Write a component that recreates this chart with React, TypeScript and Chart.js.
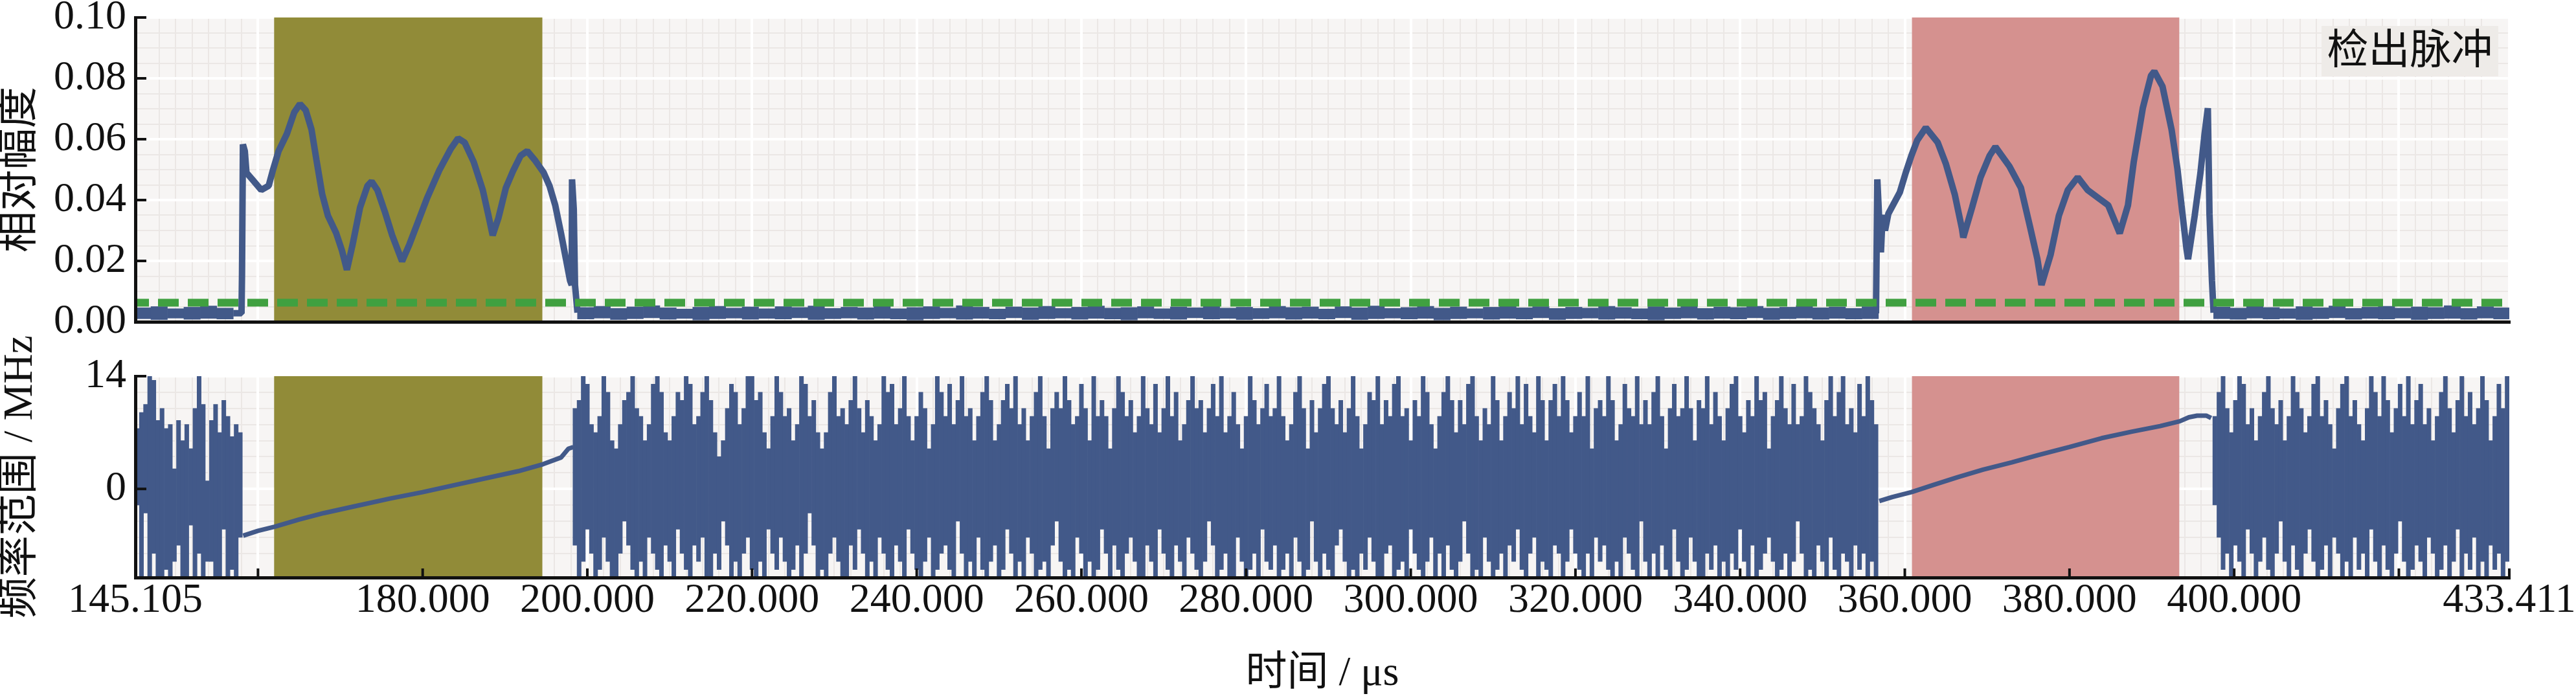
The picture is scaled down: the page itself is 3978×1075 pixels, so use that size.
import React, { useEffect, useRef } from 'react';
import { Chart, registerables } from 'chart.js';

Chart.register(...registerables);

// ---------------- axes ----------------
const TIME_MIN = 145.105;
const TIME_MAX = 433.411;
const timeTicks = [145.105, 160, 180, 200, 220, 240, 260, 280, 300, 320, 340, 360, 380, 400, 420, 433.411];
const timeTickLabels = ['145.105', '', '180.000', '200.000', '220.000', '240.000', '260.000', '280.000', '300.000', '320.000', '340.000', '360.000', '380.000', '400.000', '', '433.411'];
const AMP_MIN = 0;
const AMP_MAX = 0.1;
const ampTicks = [0, 0.02, 0.04, 0.06, 0.08, 0.1];
const ampTickLabels = ['0.00', '0.02', '0.04', '0.06', '0.08', '0.10'];
const FREQ_MIN = -11;
const FREQ_MAX = 14;
const freqTicks = [0, 14];
const freqTickLabels = ['0', '14'];

// ---------------- detected pulses ----------------
const pulse1Window = [161.95, 194.55];
const pulse2Window = [360.85, 393.35];
const detectionThreshold = 0.0063;

// ---------------- relative amplitude ----------------
// noise floor outside the pulses: max / min per 2 µs bin
const AMP_BIN = 2;
const ampNoiseAStart = 146.0;
const ampNoiseAHigh = [0.0046, 0.0050, 0.0043, 0.0048, 0.0052, 0.0045];
const ampNoiseALow = [0.0010, 0.0007, 0.0012, 0.0008, 0.0011, 0.0009];
const ampNoiseBStart = 199.8;
const ampNoiseBHigh = [
  0.0047, 0.0051, 0.0044, 0.0049, 0.0053, 0.0046, 0.0042, 0.0048, 0.0051, 0.0045,
  0.0049, 0.0043, 0.0050, 0.0047, 0.0052, 0.0044, 0.0048, 0.0046, 0.0051, 0.0043,
  0.0047, 0.0050, 0.0045, 0.0053, 0.0048, 0.0042, 0.0049, 0.0046, 0.0051, 0.0044,
  0.0048, 0.0052, 0.0045, 0.0047, 0.0050, 0.0043, 0.0049, 0.0046, 0.0053, 0.0045,
  0.0048, 0.0044, 0.0051, 0.0047, 0.0049, 0.0042, 0.0050, 0.0046, 0.0052, 0.0044,
  0.0047, 0.0051, 0.0045, 0.0049, 0.0043, 0.0048, 0.0053, 0.0046, 0.0050, 0.0044,
  0.0048, 0.0045, 0.0051, 0.0047, 0.0043, 0.0050, 0.0046, 0.0052, 0.0044, 0.0049,
  0.0047, 0.0051, 0.0045, 0.0048, 0.0053, 0.0046, 0.0049, 0.0044, 0.0050,
];
const ampNoiseBLow = [
  0.0009, 0.0012, 0.0007, 0.0010, 0.0013, 0.0008, 0.0011, 0.0006, 0.0010, 0.0012,
  0.0008, 0.0011, 0.0009, 0.0013, 0.0007, 0.0010, 0.0012, 0.0008, 0.0011, 0.0009,
  0.0006, 0.0010, 0.0012, 0.0008, 0.0011, 0.0009, 0.0013, 0.0007, 0.0010, 0.0012,
  0.0008, 0.0011, 0.0009, 0.0006, 0.0012, 0.0010, 0.0008, 0.0013, 0.0009, 0.0011,
  0.0007, 0.0010, 0.0012, 0.0008, 0.0011, 0.0009, 0.0013, 0.0007, 0.0010, 0.0012,
  0.0009, 0.0011, 0.0006, 0.0010, 0.0012, 0.0008, 0.0011, 0.0009, 0.0013, 0.0007,
  0.0010, 0.0012, 0.0008, 0.0011, 0.0009, 0.0006, 0.0010, 0.0012, 0.0008, 0.0011,
  0.0009, 0.0013, 0.0007, 0.0010, 0.0012, 0.0008, 0.0011, 0.0009, 0.0010,
];
const ampNoiseCStart = 398.5;
const ampNoiseCHigh = [0.0049, 0.0045, 0.0051, 0.0047, 0.0043, 0.0050, 0.0046, 0.0052, 0.0044, 0.0048, 0.0051, 0.0045, 0.0049, 0.0047, 0.0053, 0.0044, 0.0050, 0.0046];
const ampNoiseCLow = [0.0010, 0.0008, 0.0012, 0.0009, 0.0011, 0.0007, 0.0010, 0.0013, 0.0008, 0.0011, 0.0009, 0.0012, 0.0007, 0.0010, 0.0011, 0.0008, 0.0012, 0.0009];

// amplitude envelope inside the pulses
const pulse1Time = [157.0, 158.0, 158.06, 158.17, 158.4, 158.6, 159.3, 160.4, 161.3, 161.8, 162.5, 163.5, 164.4, 165.1, 165.8, 166.5, 167.1, 167.8, 168.5, 169.5, 170.2, 170.8, 171.5, 172.4, 173.3, 173.8, 174.5, 175.4, 176.3, 177.5, 178.4, 179.5, 180.5, 182.0, 183.4, 184.3, 185.1, 186.2, 187.3, 188.0, 188.5, 189.2, 190.1, 191.0, 191.9, 192.7, 193.6, 194.7, 195.4, 196.1, 196.8, 197.5, 197.9, 198.1, 198.14, 198.35, 198.5, 198.8];
const pulse1Amp = [0.0028, 0.0028, 0.0157, 0.0583, 0.0561, 0.0490, 0.0468, 0.0433, 0.0447, 0.0497, 0.0561, 0.0617, 0.0688, 0.0716, 0.0695, 0.0632, 0.0532, 0.0419, 0.0348, 0.0291, 0.0234, 0.0171, 0.0255, 0.0376, 0.0447, 0.0461, 0.0433, 0.0362, 0.0284, 0.0199, 0.0255, 0.0333, 0.0404, 0.0497, 0.0568, 0.0603, 0.0589, 0.0525, 0.0433, 0.0348, 0.0284, 0.0341, 0.0440, 0.0497, 0.0546, 0.0561, 0.0532, 0.0490, 0.0447, 0.0383, 0.0291, 0.0192, 0.0135, 0.0121, 0.0468, 0.0370, 0.0121, 0.0030];
const pulse2Time = [356.5, 356.66, 356.9, 357.1, 357.3, 357.6, 358.0, 359.4, 360.1, 360.8, 361.5, 362.55, 364.0, 365.0, 366.06, 366.94, 367.1, 368.17, 369.2, 370.3, 371.0, 372.7, 374.1, 375.2, 376.1, 376.6, 377.7, 378.7, 379.8, 381.0, 382.2, 383.6, 384.7, 386.1, 387.1, 387.8, 388.9, 389.9, 390.3, 391.3, 392.4, 393.1, 393.6, 394.2, 394.4, 395.2, 395.9, 396.4, 396.8, 397.0, 397.3, 397.5];
const pulse2Amp = [0.0028, 0.0468, 0.0330, 0.0228, 0.0351, 0.0300, 0.0355, 0.0426, 0.0489, 0.0546, 0.0596, 0.0638, 0.0589, 0.0518, 0.0419, 0.0306, 0.0277, 0.0376, 0.0475, 0.0546, 0.0575, 0.0511, 0.0440, 0.0313, 0.0206, 0.0121, 0.0220, 0.0348, 0.0433, 0.0475, 0.0433, 0.0405, 0.0383, 0.0291, 0.0383, 0.0525, 0.0702, 0.0809, 0.0823, 0.0773, 0.0631, 0.0504, 0.0383, 0.0241, 0.0206, 0.0348, 0.0489, 0.0617, 0.0702, 0.0355, 0.0135, 0.0030];

// ---------------- frequency ----------------
// linear chirp inside each pulse
const chirp1Time = [158.2, 160, 162, 165, 168, 172, 176, 180, 184, 188, 191.6, 194.6, 196.8, 197.7, 198.3];
const chirp1Freq = [-5.8, -5.2, -4.7, -3.8, -3.0, -2.1, -1.2, -0.4, 0.5, 1.4, 2.2, 3.06, 3.9, 5.0, 5.2];
const chirp2Time = [356.9, 358.5, 360.8, 363.5, 366.4, 369.5, 373, 376.2, 380, 383.9, 387.5, 391, 393.4, 394.5, 395.5, 396.6, 397.2];
const chirp2Freq = [-1.5, -1.0, -0.4, 0.5, 1.45, 2.4, 3.3, 4.2, 5.2, 6.3, 7.1, 7.8, 8.4, 8.9, 9.1, 9.1, 8.8];

// noise outside the pulses: max / min per 0.5 µs bin
const FREQ_BIN = 0.5;
const freqNoiseAStart = 145.35;
const freqNoiseAHigh = [7.5, 9.5, 10.5, 14, 13.5, 8.5, 10, 7.5, 8, 2.5, 8.5, 6, 8, 5, 10, 14, 10.5, 1, 8.5, 10.5, 7, 11, 9, 6.5, 8, 7];
const freqNoiseALow = [-2, -11, -3, -11, -8, -11, -11, -10, -11, -9, -7, -11, -11, -4.5, -11, -8, -11, -9, -9, -11, -11, -5, -11, -10, -11, -6];
const freqNoiseBStart = 198.5;
const freqNoiseBHigh = [
  10, 11, 14, 13, 8, 7, 9, 14, 12, 6,
  5, 8, 11, 12, 14, 10, 9, 6, 8, 13,
  14, 12, 7, 6, 9, 12, 11, 14, 13, 8,
  9, 12, 14, 11, 7, 4, 6, 10, 13, 12,
  8, 10, 14, 14, 11, 12, 7, 5, 9, 14,
  12, 9, 10, 6, 8, 14, 13, 9, 11, 7,
  5, 7, 12, 14, 9, 10, 8, 11, 14, 10,
  7, 11, 9, 6, 8, 14, 12, 13, 8, 10,
  14, 9, 6, 9, 12, 10, 5, 8, 14, 12,
  9, 13, 8, 11, 14, 9, 10, 6, 9, 12,
  14, 11, 6, 8, 11, 13, 10, 14, 8, 10,
  6, 9, 12, 14, 9, 5, 10, 12, 10, 14,
  11, 8, 9, 13, 10, 6, 14, 9, 11, 9,
  5, 10, 14, 12, 9, 11, 7, 9, 14, 10,
  8, 13, 7, 10, 14, 9, 12, 6, 8, 11,
  14, 10, 11, 7, 10, 13, 9, 14, 7, 9,
  12, 8, 5, 9, 14, 11, 8, 10, 13, 9,
  10, 14, 9, 6, 8, 12, 14, 10, 5, 11,
  7, 10, 13, 14, 10, 8, 11, 7, 10, 14,
  9, 5, 8, 12, 11, 14, 8, 11, 9, 13,
  14, 9, 10, 6, 11, 9, 14, 12, 8, 5,
  9, 12, 14, 11, 7, 11, 8, 13, 14, 9,
  6, 10, 8, 14, 11, 6, 9, 12, 10, 14,
  8, 13, 9, 7, 14, 11, 6, 11, 13, 9,
  14, 11, 7, 9, 12, 9, 14, 5, 10, 11,
  9, 14, 11, 6, 8, 13, 10, 9, 14, 8,
  11, 8, 12, 14, 9, 5, 10, 13, 9, 10,
  14, 10, 6, 11, 10, 14, 8, 12, 9, 6,
  10, 13, 14, 9, 7, 11, 9, 14, 11, 12,
  5, 9, 11, 14, 10, 8, 13, 8, 9, 14,
  12, 10, 8, 6, 11, 14, 9, 12, 14, 8,
  10, 7, 13, 9, 14, 11, 8,
];
const freqNoiseBLow = [
  -7, -11, -9, -5, -8, -11, -10, -6, -9, -11,
  -11, -8, -4, -7, -10, -11, -9, -11, -6, -8,
  -10, -11, -7, -9, -11, -5, -8, -10, -11, -7,
  -9, -6, -11, -11, -8, -10, -4, -7, -11, -9,
  -11, -8, -6, -10, -11, -9, -11, -5, -8, -10,
  -6, -9, -11, -10, -7, -11, -8, -3, -7, -11,
  -10, -11, -8, -6, -9, -11, -11, -7, -10, -5,
  -8, -11, -9, -11, -6, -8, -10, -11, -7, -9,
  -11, -5, -8, -10, -11, -9, -6, -11, -10, -8,
  -7, -10, -11, -4, -8, -11, -9, -11, -6, -10,
  -11, -9, -7, -11, -10, -5, -8, -11, -9, -11,
  -6, -8, -11, -10, -9, -11, -7, -4, -9, -11,
  -10, -11, -6, -8, -11, -9, -11, -10, -5, -8,
  -11, -7, -10, -11, -8, -6, -9, -11, -11, -7,
  -9, -11, -5, -8, -10, -11, -7, -9, -11, -6,
  -8, -10, -11, -9, -4, -7, -11, -10, -8, -11,
  -11, -6, -9, -11, -10, -8, -11, -5, -9, -10,
  -7, -11, -10, -8, -11, -6, -9, -11, -10, -4,
  -9, -11, -8, -10, -11, -7, -5, -9, -11, -10,
  -11, -8, -10, -6, -9, -11, -11, -8, -7, -11,
  -10, -9, -11, -5, -8, -10, -11, -9, -6, -11,
  -8, -11, -7, -10, -11, -9, -4, -8, -11, -10,
  -11, -6, -9, -11, -10, -8, -11, -7, -9, -5,
  -10, -11, -8, -6, -11, -9, -10, -11, -7, -8,
  -11, -9, -5, -8, -10, -11, -8, -11, -6, -9,
  -7, -10, -11, -9, -11, -6, -8, -10, -11, -4,
  -9, -11, -8, -11, -7, -10, -11, -5, -9, -11,
  -10, -6, -9, -11, -11, -8, -10, -7, -11, -9,
  -11, -8, -10, -5, -9, -11, -7, -11, -10, -8,
  -6, -9, -11, -10, -8, -11, -9, -4, -8, -11,
  -10, -11, -7, -9, -11, -6, -10, -11, -8, -9,
  -11, -7, -10, -8, -11, -9, -11,
];
const freqNoiseCStart = 397.65;
const freqNoiseCHigh = [
  9, 12, 14, 10, 7, 11, 14, 13, 8, 10,
  6, 9, 12, 14, 10, 8, 11, 6, 9, 14,
  12, 10, 7, 9, 13, 14, 9, 11, 8, 5,
  10, 13, 14, 9, 11, 8, 6, 10, 14, 12,
  9, 14, 11, 7, 10, 13, 9, 14, 8, 11,
  13, 8, 10, 6, 9, 12, 14, 10, 7, 11,
  14, 9, 12, 8, 10, 14, 11, 6, 9, 13,
  10, 14,
];
const freqNoiseCLow = [
  -2, -6, -10, -8, -11, -7, -9, -11, -5, -8,
  -11, -9, -6, -10, -11, -8, -4, -9, -11, -7,
  -10, -11, -8, -5, -9, -11, -10, -7, -11, -6,
  -8, -11, -9, -11, -6, -10, -8, -11, -5, -9,
  -11, -7, -10, -11, -8, -4, -9, -11, -10, -7,
  -9, -11, -6, -8, -11, -10, -7, -11, -9, -5,
  -11, -8, -10, -6, -11, -9, -11, -7, -10, -8,
  -11, -9,
];

// ---------------- styling ----------------
const BLUE = '#425989';
const OLIVE = '#918b38';
const PINK = '#d5918f';
const GREEN = '#40a040';
const PLOT_BG = '#f7f5f4';
const MINOR_GRID = '#ebe7e5';
const MAJOR_GRID = '#ffffff';
const INK = '#111111';
const FONT = '"Liberation Serif", "Noto Sans CJK SC", serif';

const paired = (xs: number[], ys: number[]) => xs.map((x, i) => ({ x, y: ys[i] }));
const binned = (start: number, step: number, hi: number[], lo: number[]) => hi.map((h, i) => ({ x: start + i * step, y: [lo[i], h] }));

const ampNoiseBars = [
  ...binned(ampNoiseAStart, AMP_BIN, ampNoiseAHigh, ampNoiseALow),
  ...binned(ampNoiseBStart, AMP_BIN, ampNoiseBHigh, ampNoiseBLow),
  ...binned(ampNoiseCStart, AMP_BIN, ampNoiseCHigh, ampNoiseCLow),
];
const freqNoiseBars = [
  ...binned(freqNoiseAStart, FREQ_BIN, freqNoiseAHigh, freqNoiseALow),
  ...binned(freqNoiseBStart, FREQ_BIN, freqNoiseBHigh, freqNoiseBLow),
  ...binned(freqNoiseCStart, FREQ_BIN, freqNoiseCHigh, freqNoiseCLow),
];

const zeroPad = (s: any) => {
  s.paddingLeft = 0;
  s.paddingRight = 0;
  s.paddingTop = 0;
  s.paddingBottom = 0;
};

const bgPlugin = {
  id: 'plotBg',
  beforeDraw(chart: any) {
    const { ctx, chartArea } = chart;
    ctx.save();
    ctx.fillStyle = PLOT_BG;
    ctx.fillRect(chartArea.left, chartArea.top, chartArea.right - chartArea.left, chartArea.bottom - chartArea.top);
    ctx.restore();
  },
};

const makeTicksPlugin = (yValues: number[], yLength: number, xValues: number[], xLength: number) => ({
  id: 'inwardTicks',
  afterDraw(chart: any) {
    const { ctx, chartArea } = chart;
    ctx.save();
    ctx.strokeStyle = INK;
    ctx.lineWidth = 4;
    yValues.forEach((v) => {
      const p = chart.scales.y.getPixelForValue(v);
      ctx.beginPath();
      ctx.moveTo(chartArea.left, p);
      ctx.lineTo(chartArea.left + yLength, p);
      ctx.stroke();
    });
    xValues.forEach((v) => {
      const p = chart.scales.x.getPixelForValue(v);
      ctx.beginPath();
      ctx.moveTo(p, chartArea.bottom);
      ctx.lineTo(p, chartArea.bottom - xLength);
      ctx.stroke();
    });
    ctx.restore();
  },
});

const pulseLabelPlugin = {
  id: 'pulseLabel',
  afterDraw(chart: any) {
    const { ctx, chartArea } = chart;
    const w = 273;
    const h = 78;
    const x = chartArea.right - 17 - w;
    const y = chartArea.top + 13;
    ctx.save();
    ctx.fillStyle = '#eeebe8';
    ctx.fillRect(x, y, w, h);
    ctx.fillStyle = INK;
    ctx.font = '64px ' + FONT;
    ctx.textAlign = 'center';
    ctx.textBaseline = 'middle';
    ctx.fillText('检出脉冲', x + w / 2, y + h / 2 + 2);
    ctx.restore();
  },
};

const minorX = () => ({
  type: 'linear',
  position: 'bottom',
  min: TIME_MIN,
  max: TIME_MAX,
  offset: false,
  ticks: { display: false, stepSize: 2 },
  grid: { color: MINOR_GRID, lineWidth: 2, drawTicks: false, z: -2, offset: false },
  border: { display: false },
  afterFit: (s: any) => { s.height = 0; zeroPad(s); },
});
const minorY = (min: number, max: number, step: number) => ({
  type: 'linear',
  position: 'left',
  min,
  max,
  ticks: { display: false, stepSize: step },
  grid: { color: MINOR_GRID, lineWidth: 2, drawTicks: false, z: -2 },
  border: { display: false },
  afterFit: (s: any) => { s.width = 0; zeroPad(s); },
});

const windowDataset = (win: number[], top: number, color: string) => ({
  type: 'line',
  data: [{ x: win[0], y: top }, { x: win[1], y: top }],
  fill: 'start',
  backgroundColor: color,
  borderColor: 'rgba(0,0,0,0)',
  borderWidth: 0,
  pointRadius: 0,
  order: 10,
  clip: 0,
  xAxisID: 'x',
  yAxisID: 'y',
});

const traceLine = (label: string, data: any[], width: number, order: number) => ({
  type: 'line',
  label,
  data,
  borderColor: BLUE,
  borderWidth: width,
  borderJoinStyle: 'bevel',
  pointRadius: 0,
  order,
  clip: 0,
  xAxisID: 'x',
  yAxisID: 'y',
});

const noiseBars = (label: string, data: any[], order: number) => ({
  type: 'bar',
  label,
  data,
  backgroundColor: BLUE,
  borderWidth: 0,
  barPercentage: 1,
  categoryPercentage: 1,
  order,
  clip: 0,
  xAxisID: 'x',
  yAxisID: 'y',
});

const xMain = (showLabels: boolean, height: number) => ({
  type: 'linear',
  position: 'bottom',
  min: TIME_MIN,
  max: TIME_MAX,
  offset: false,
  afterBuildTicks: (s: any) => { s.ticks = timeTicks.map((v) => ({ value: v })); },
  ticks: {
    display: showLabels,
    callback: (_v: any, i: number) => timeTickLabels[i],
    font: { family: FONT, size: 64, lineHeight: 1 },
    color: INK,
    padding: 4,
    autoSkip: false,
    maxRotation: 0,
    minRotation: 0,
  },
  grid: { color: MAJOR_GRID, lineWidth: 4, drawTicks: false, offset: false },
  border: { display: true, color: INK, width: 5, z: 1 },
  title: { display: showLabels, text: '时间 / μs', font: { family: FONT, size: 64, lineHeight: 1 }, color: INK, padding: { top: 0, bottom: 2 } },
  afterFit: (s: any) => { s.height = height; zeroPad(s); },
});

const yMain = (min: number, max: number, ticks: number[], labels: string[], title: string) => ({
  type: 'linear',
  position: 'left',
  min,
  max,
  afterBuildTicks: (s: any) => { s.ticks = ticks.map((v) => ({ value: v })); },
  ticks: {
    callback: (_v: any, i: number) => labels[i],
    font: { family: FONT, size: 64, lineHeight: 1 },
    color: INK,
    padding: 14,
    autoSkip: false,
  },
  grid: { color: MAJOR_GRID, lineWidth: 4, drawTicks: false },
  border: { display: true, color: INK, width: 5, z: 1 },
  title: { display: true, text: title, font: { family: FONT, size: 64, lineHeight: 1 }, color: INK, padding: 0 },
  afterFit: (s: any) => { s.width = 209; zeroPad(s); },
});

const baseOptions = (padTop: number) => ({
  responsive: false,
  animation: false,
  devicePixelRatio: 1,
  events: [],
  layout: { padding: { left: 0, right: 103, top: padTop, bottom: 0 } },
  plugins: { legend: { display: false }, tooltip: { enabled: false } },
});

function topConfig(): any {
  return {
    type: 'line',
    data: {
      datasets: [
        {
          type: 'line',
          label: 'threshold',
          data: [{ x: TIME_MIN, y: detectionThreshold }, { x: TIME_MAX, y: detectionThreshold }],
          borderColor: GREEN,
          borderWidth: 12,
          borderDash: [32, 14],
          borderDashOffset: 11,
          borderCapStyle: 'butt',
          pointRadius: 0,
          order: 1,
          clip: 0,
          xAxisID: 'x',
          yAxisID: 'y',
        },
        traceLine('pulse 1 amplitude', paired(pulse1Time, pulse1Amp), 10, 2),
        traceLine('pulse 2 amplitude', paired(pulse2Time, pulse2Amp), 10, 2),
        noiseBars('amplitude noise', ampNoiseBars, 3),
        windowDataset(pulse1Window, AMP_MAX, OLIVE),
        windowDataset(pulse2Window, AMP_MAX, PINK),
      ],
    },
    options: {
      ...baseOptions(27),
      scales: {
        x: xMain(false, 43),
        y: yMain(AMP_MIN, AMP_MAX, ampTicks, ampTickLabels, '相对幅度'),
        xm: minorX(),
        ym: minorY(AMP_MIN, AMP_MAX, 0.005),
      },
    },
    plugins: [bgPlugin, makeTicksPlugin(ampTicks, 17, [], 0), pulseLabelPlugin],
  };
}

function bottomConfig(): any {
  return {
    type: 'line',
    data: {
      datasets: [
        traceLine('chirp 1', paired(chirp1Time, chirp1Freq), 7, 2),
        traceLine('chirp 2', paired(chirp2Time, chirp2Freq), 7, 2),
        noiseBars('frequency noise', freqNoiseBars, 3),
        windowDataset(pulse1Window, FREQ_MAX, OLIVE),
        windowDataset(pulse2Window, FREQ_MAX, PINK),
      ],
    },
    options: {
      ...baseOptions(101),
      scales: {
        x: xMain(true, 183),
        y: yMain(FREQ_MIN, FREQ_MAX, freqTicks, freqTickLabels, '频率范围 / MHz'),
        xm: minorX(),
        ym: minorY(FREQ_MIN, FREQ_MAX, 2),
      },
    },
    plugins: [bgPlugin, makeTicksPlugin(freqTicks, 17, timeTicks, 14)],
  };
}

export default function App() {
  const topRef = useRef<HTMLCanvasElement>(null);
  const bottomRef = useRef<HTMLCanvasElement>(null);

  useEffect(() => {
    const top = new Chart(topRef.current as HTMLCanvasElement, topConfig());
    const bottom = new Chart(bottomRef.current as HTMLCanvasElement, bottomConfig());
    return () => {
      top.destroy();
      bottom.destroy();
    };
  }, []);

  return (
    <div style={{ position: 'fixed', left: 0, top: 0, width: 3978, height: 1075, background: '#ffffff', overflow: 'hidden' }}>
      <canvas ref={topRef} width={3978} height={540} style={{ position: 'absolute', left: 0, top: 0, width: 3978, height: 540 }} />
      <canvas ref={bottomRef} width={3978} height={595} style={{ position: 'absolute', left: 0, top: 480, width: 3978, height: 595 }} />
    </div>
  );
}
